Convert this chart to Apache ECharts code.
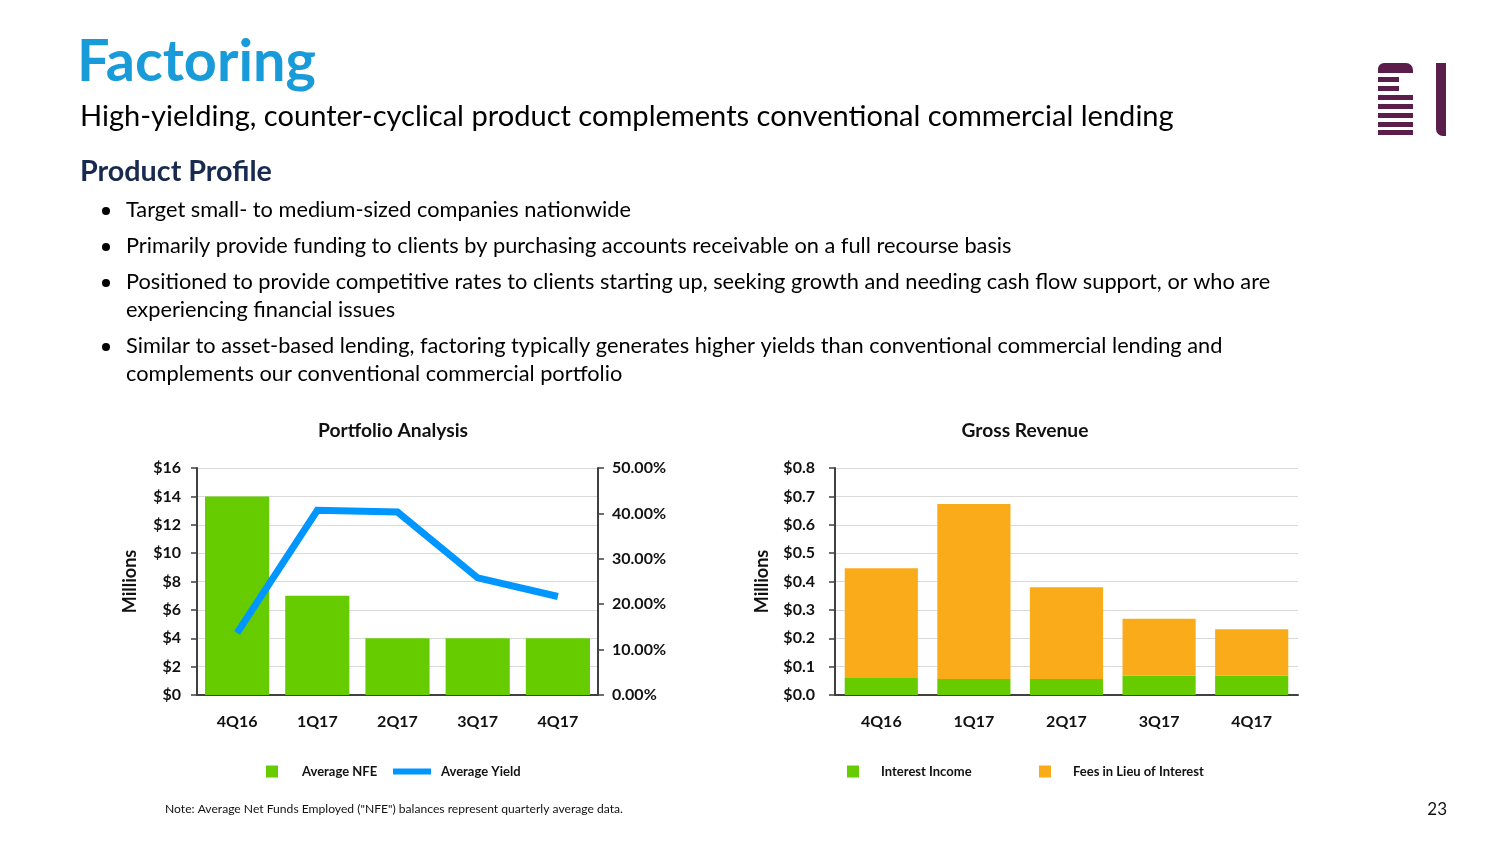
<!DOCTYPE html>
<html><head><meta charset="utf-8">
<script src="https://cdn.jsdelivr.net/npm/echarts@6/dist/echarts.min.js"></script>
<style>html,body{margin:0;padding:0;background:#fff}#c{width:1504px;height:846px}</style>
</head><body><div id="c"></div>
<script>
// ---- data ----
const quarters = ['4Q16', '1Q17', '2Q17', '3Q17', '4Q17'];
const avgNFE = [14, 7, 4, 4, 4];                       // $ millions
const avgYield = [13.7, 40.7, 40.3, 25.8, 21.7];       // percent
const interestIncome = [0.060, 0.056, 0.056, 0.068, 0.068]; // $ millions
const feesInLieu = [0.387, 0.617, 0.324, 0.201, 0.164];     // $ millions
const nfeAxis = { min: 0, max: 16, step: 2 };
const yieldAxis = { min: 0, max: 50, step: 10 };
const revAxis = { min: 0, max: 0.8, step: 0.1 };

const titleText = 'Factoring';
const subtitleText = 'High-yielding, counter-cyclical product complements conventional commercial lending';
const headingText = 'Product Profile';
const bullets = [
  ['Target small- to medium-sized companies nationwide'],
  ['Primarily provide funding to clients by purchasing accounts receivable on a full recourse basis'],
  ['Positioned to provide competitive rates to clients starting up, seeking growth and needing cash flow support, or who are', 'experiencing financial issues'],
  ['Similar to asset-based lending, factoring typically generates higher yields than conventional commercial lending and', 'complements our conventional commercial portfolio']
];
const noteText = 'Note: Average Net Funds Employed ("NFE") balances represent quarterly average data.';
const pageNum = '23';

// ---- layout helpers ----
const FAM = 'Lato';
const mctx = document.createElement('canvas').getContext('2d');
function fit(text, weight, target) {
  mctx.font = weight + ' 100px ' + FAM;
  return 100 * target / mctx.measureText(text).width;
}
function txt(text, x, y, size, weight, color, align) {
  return { type: 'text', x: x, y: y, silent: true,
    style: { text: text, fontSize: size, fontWeight: weight, fontFamily: FAM, fill: color,
      align: align || 'left', verticalAlign: 'middle' } };
}

const g = [];
g.push(txt(titleText, 77, 62, fit(titleText, 'bold', 239), 'bold', '#1A9BD9'));
g.push(txt(subtitleText, 80, 117, fit(subtitleText, 'normal', 1094), 'normal', '#000'));
g.push(txt(headingText, 80, 172, fit(headingText, 'bold', 192), 'bold', '#172A4F'));
const bSize = fit(bullets[2][0], 'normal', 1145);
const bulletY = [[210], [246], [282, 310], [346, 374]];
bullets.forEach((lines, i) => {
  g.push({ type: 'circle', silent: true, shape: { cx: 106, cy: bulletY[i][0] + 1, r: 4 }, style: { fill: '#000' } });
  lines.forEach((l, j) => g.push(txt(l, 126, bulletY[i][j], bSize, 'normal', '#000')));
});
g.push(txt('Portfolio Analysis', 393, 431, fit('Portfolio Analysis', 'bold', 150), 'bold', '#111', 'center'));
g.push(txt('Gross Revenue', 1025, 431, fit('Gross Revenue', 'bold', 127), 'bold', '#111', 'center'));
g.push(txt(noteText, 165, 809, fit(noteText, 'normal', 458), 'normal', '#111'));
g.push(txt(pageNum, 1447, 810, 17, 'normal', '#111', 'right'));
// logo
const LC = '#5B1E4A';
g.push({ type: 'rect', silent: true, shape: { x: 1378, y: 63, width: 35, height: 10, r: [6, 7, 0, 0] }, style: { fill: LC } });
[77, 86].forEach(y => g.push({ type: 'rect', silent: true, shape: { x: 1378, y: y, width: 21, height: 5 }, style: { fill: LC } }));
[95, 104, 113, 122, 130].forEach(y => g.push({ type: 'rect', silent: true, shape: { x: 1378, y: y, width: 35, height: 5 }, style: { fill: LC } }));
g.push({ type: 'rect', silent: true, shape: { x: 1436, y: 63, width: 10, height: 73, r: [0, 0, 0, 7] }, style: { fill: LC } });

const AX = '#404040';
const lblBold = { fontFamily: FAM, fontWeight: 'bold', fontSize: 16, color: '#111' };
const nameStyle = { fontFamily: FAM, fontWeight: 'bold', fontSize: 18, color: '#111' };
function legend(name, left, w, h, gap) {
  return { data: [{ name: name, icon: 'rect' }], left: left, top: 765, itemWidth: w, itemHeight: h,
    itemGap: 0, padding: 0, selectedMode: false,
    textStyle: { fontFamily: FAM, fontWeight: 'bold', fontSize: 13, color: '#111', padding: [0, 0, 0, gap] } };
}
function catAxis(gi) {
  return { type: 'category', gridIndex: gi, data: quarters,
    axisLine: { lineStyle: { color: AX, width: 2 } },
    axisTick: { alignWithLabel: true, length: 6, lineStyle: { color: AX, width: 1.5 } },
    axisLabel: Object.assign({ margin: 19 }, lblBold) };
}
function valAxis(gi, ax, fmt, opts) {
  return Object.assign({ type: 'value', gridIndex: gi, min: ax.min, max: ax.max, interval: ax.step,
    axisLine: { show: true, lineStyle: { color: AX, width: 2 } },
    axisTick: { show: true, length: 6, lineStyle: { color: AX, width: 1.5 } },
    axisLabel: Object.assign({ formatter: fmt }, lblBold),
    splitLine: { show: true, lineStyle: { color: '#D9D9D9', width: 1 } } }, opts || {});
}

const chart = echarts.init(document.getElementById('c'), null, { renderer: 'canvas' });
chart.setOption({
  animation: false,
  backgroundColor: '#fff',
  textStyle: { fontFamily: FAM },
  graphic: g,
  grid: [
    { left: 197, right: 1504 - 598, top: 468, bottom: 846 - 695 },
    { left: 835, right: 1504 - 1298, top: 468, bottom: 846 - 695 }
  ],
  legend: [
    legend('Average NFE', 266, 12, 12, 19),
    legend('Average Yield', 393, 38, 6, 5),
    legend('Interest Income', 847, 12, 12, 17),
    legend('Fees in Lieu of Interest', 1039, 12, 12, 17)
  ],
  xAxis: [catAxis(0), catAxis(1)],
  yAxis: [
    valAxis(0, nfeAxis, v => '$' + v, {
      name: 'Millions', nameLocation: 'middle', nameRotate: 90, nameGap: 58,
      nameTextStyle: nameStyle, axisLabel: Object.assign({ formatter: v => '$' + v, margin: 16 }, lblBold) }),
    valAxis(0, yieldAxis, v => v.toFixed(2) + '%', { position: 'right', splitLine: { show: false },
      axisLabel: Object.assign({ formatter: v => v.toFixed(2) + '%', margin: 14 }, lblBold) }),
    valAxis(1, revAxis, v => '$' + v.toFixed(1), {
      name: 'Millions', nameLocation: 'middle', nameRotate: 90, nameGap: 64,
      nameTextStyle: nameStyle, axisLabel: Object.assign({ formatter: v => '$' + v.toFixed(1), margin: 20 }, lblBold) })
  ],
  series: [
    { name: 'Average NFE', type: 'bar', xAxisIndex: 0, yAxisIndex: 0, data: avgNFE,
      barCategoryGap: '20%', itemStyle: { color: '#66CC00' } },
    { name: 'Average Yield', type: 'line', xAxisIndex: 0, yAxisIndex: 1, data: avgYield,
      showSymbol: false, symbol: 'none', lineStyle: { color: '#0096FF', width: 7, join: 'miter' }, itemStyle: { color: '#0096FF' } },
    { name: 'Interest Income', type: 'bar', xAxisIndex: 1, yAxisIndex: 2, stack: 'rev', data: interestIncome,
      barCategoryGap: '21%', itemStyle: { color: '#66CC00' } },
    { name: 'Fees in Lieu of Interest', type: 'bar', xAxisIndex: 1, yAxisIndex: 2, stack: 'rev', data: feesInLieu,
      itemStyle: { color: '#F9AB1A' } }
  ]
});
</script></body></html>
